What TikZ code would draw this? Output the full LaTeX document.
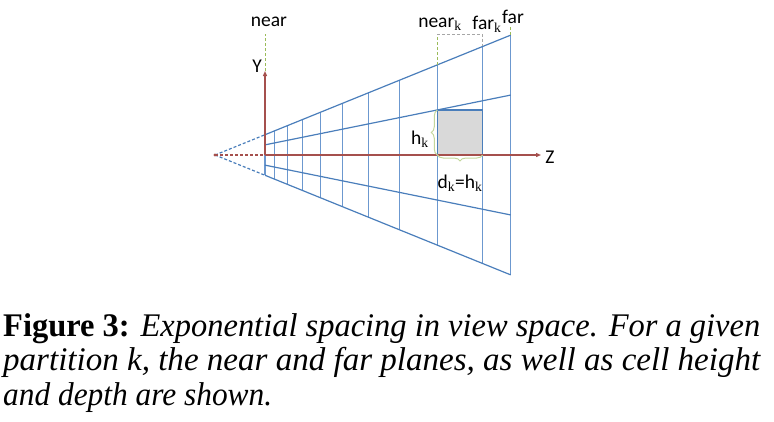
\documentclass[tikz,border=0pt]{standalone}
\usepackage{fontspec}
\usepackage{graphicx}
\setmainfont{Liberation Serif}
\newfontfamily\labelfont{Carlito}
\usetikzlibrary{arrows.meta,decorations.pathreplacing}
\definecolor{fblue}{HTML}{4A7EBB}
\definecolor{fvblue}{HTML}{6C98CF}
\definecolor{fred}{HTML}{A5504D}
\definecolor{fgreen}{HTML}{9BBB59}
\definecolor{fbrace}{HTML}{C3D69B}
\definecolor{fgray}{HTML}{A6A6A6}
\definecolor{fcell}{HTML}{D9D9D9}
\begin{document}
\begin{tikzpicture}[x=1pt,y=-1pt,
  ray/.style={draw=fblue,line width=1.2pt},
  vline/.style={draw=fvblue,line width=1.5pt},
  dray/.style={draw=fblue,line width=1.2pt,dash pattern=on 3pt off 2pt},
  axis/.style={draw=fred,line width=1.2pt,-{Triangle[length=5pt,width=4pt]}},
  gdash/.style={draw=fgreen,line width=1pt,dash pattern=on 3pt off 2pt},
  graydash/.style={draw=fgray,line width=0.9pt,dash pattern=on 3pt off 2pt},
  lbl/.style={font=\labelfont\fontsize{19.5}{20}\selectfont,inner sep=0pt},
  captext/.style={font=\fontsize{33}{33}\selectfont,inner sep=0pt,anchor=base west},
  brc/.style={draw=fbrace,line width=1pt,decorate,decoration={brace,amplitude=6pt}}
]
\useasboundingbox (0,0) rectangle (774,421);
\pgfmathsetmacro{\s}{120/296}
% apex
\coordinate (A) at (215,155);
% dashed parts before near plane
\draw[dray] (A) -- (265,{155-50*\s});
\draw[dray] (A) -- (265,{155+50*\s});
\draw[draw=fred,line width=1.1pt,dash pattern=on 3pt off 2pt] (A) -- (265,155);
\fill[fred] (A) circle (1.6pt);
% vertical grid lines
\foreach \x in {265.2,274.7,287.7,302.3,320.6,342.3,368.3,399.3,437.3,482.7,510.7}{
  \draw[vline] (\x,{155-(\x-215)*\s}) -- (\x,{155+(\x-215)*\s});
}
% rays
\draw[ray] (265,{155-50*\s}) -- (510.7,{155-295.7*\s});
\draw[ray] (265,{155+50*\s}) -- (510.7,{155+295.7*\s});
\draw[ray] (265,{155-25*\s}) -- (510.7,{155-147.85*\s});
\draw[ray] (265,{155+25*\s}) -- (510.7,{155+147.85*\s});
% cell
\draw[fill=fcell,draw=fblue,line width=1.3pt] (437.3,110) rectangle (482.7,155);
% axes
\coordinate (O) at (265,155);
\coordinate (Yend) at (265,71);
\coordinate (Zend) at (541,155);
\draw[axis] (O) -- (Yend);
\draw[axis] (O) -- (Zend);
% dashed guides
\draw[gdash] (265,71) -- (265,34);
\draw[gdash] (437.3,65) -- (437.3,34);
\draw[graydash] (437.3,34) -- (482.7,34) -- (482.7,{155-267.7*\s});
\draw[gdash] (510.7,35) -- (510.7,27);
% braces
\draw[brc] (437.3,155) -- (437.3,110);
\draw[brc] (482.7,155) -- (437.3,155);
% labels
\node[lbl] (near) at (269,22) {near};
\node[lbl] (Y) at (257,66) {Y};
\node[lbl] (Z) at (550,157) {Z};
\node[lbl] (neark) at (440,24) {near$_{\mathrm{k}}$};
\node[lbl] (fark) at (487,24) {far$_{\mathrm{k}}$};
\node[lbl] (far) at (513,17) {far};
\node[lbl] (hk) at (420,139) {h$_{\mathrm{k}}$};
\node[lbl] (dk) at (460,183) {d$_{\mathrm{k}}$=h$_{\mathrm{k}}$};
% caption
\node[captext] (c1) at (3,336) {\resizebox{757pt}{\height}{\textbf{Figure 3:} \itshape Exponential spacing in view space. For a given}};
\node[captext] (c2) at (3,370.5) {\resizebox{757pt}{\height}{\itshape partition k, the near and far planes, as well as cell height}};
\node[captext] (c3) at (3,405) {\resizebox{269pt}{\height}{\itshape and depth are shown.}};
\end{tikzpicture}
\end{document}
